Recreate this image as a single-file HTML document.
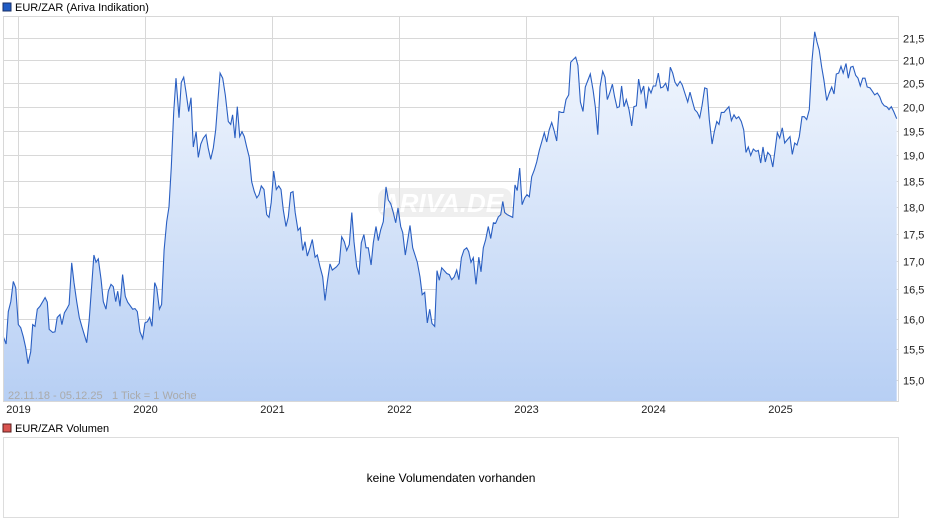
<!DOCTYPE html>
<html><head><meta charset="utf-8"><style>
html,body{margin:0;padding:0;background:#fff;}
svg{display:block;font-family:"Liberation Sans",sans-serif;}
</style></head><body>
<svg id="chart" width="940" height="526" viewBox="0 0 940 526">
<defs><linearGradient id="fillg" x1="0" y1="0" x2="0" y2="1">
<stop offset="0" stop-color="#f4f8fe"/><stop offset="1" stop-color="#b7cff4"/></linearGradient></defs>
<rect x="3" y="3" width="8" height="8" fill="#1f5bc4" stroke="#1a2f66" stroke-width="1"/>
<text x="15" y="11" font-size="11" fill="#000">EUR/ZAR (Ariva Indikation)</text>
<g id="grid"></g>
<path id="area" fill="url(#fillg)"/>
<g opacity="0.55">
<rect x="378" y="188" width="134" height="29" rx="10" fill="#e2e2e2"/>
<text x="442" y="212" font-size="26" font-style="italic" font-weight="bold" fill="#ffffff" text-anchor="middle">ARIVA.DE</text>
</g>
<path id="line" fill="none" stroke="#2a5fc2" stroke-width="1.1"/>
<rect x="3.5" y="16.5" width="895" height="385" fill="none" stroke="#d8d8d8"/>
<text x="8" y="399" font-size="11" fill="#aaaaaa">22.11.18 - 05.12.25</text>
<text x="112" y="399" font-size="11" fill="#aaaaaa">1 Tick = 1 Woche</text>
<g id="labels"></g>
<rect x="3" y="424" width="8" height="8" fill="#d9534f" stroke="#5a1f1f" stroke-width="1"/>
<text x="15" y="432" font-size="11" fill="#000">EUR/ZAR Volumen</text>
<rect x="3.5" y="437.5" width="895" height="80" fill="#fff" stroke="#dddddd"/>
<text x="451" y="482" font-size="12" fill="#000" text-anchor="middle">keine Volumendaten vorhanden</text>
</svg>
<script>
const yTicks=[15.0,15.5,16.0,16.5,17.0,17.5,18.0,18.5,19.0,19.5,20.0,20.5,21.0,21.5];
const yTickLabels=["15,0","15,5","16,0","16,5","17,0","17,5","18,0","18,5","19,0","19,5","20,0","20,5","21,0","21,5"];
const years=[2019,2020,2021,2022,2023,2024,2025];
const dates=[2018.884,2018.906,2018.924,2018.943,2018.963,2018.982,2019.002,2019.021,2019.042,2019.061,2019.079,2019.100,2019.116,2019.134,2019.152,2019.173,2019.213,2019.231,2019.246,2019.273,2019.291,2019.309,2019.331,2019.346,2019.365,2019.383,2019.402,2019.423,2019.441,2019.462,2019.483,2019.502,2019.541,2019.561,2019.598,2019.614,2019.632,2019.654,2019.672,2019.693,2019.711,2019.732,2019.750,2019.769,2019.785,2019.803,2019.824,2019.845,2019.864,2019.903,2019.921,2019.939,2019.961,2019.982,2020.000,2020.018,2020.037,2020.055,2020.076,2020.092,2020.113,2020.131,2020.150,2020.171,2020.189,2020.207,2020.226,2020.244,2020.268,2020.286,2020.305,2020.323,2020.344,2020.362,2020.380,2020.402,2020.420,2020.439,2020.459,2020.480,2020.498,2020.517,2020.538,2020.557,2020.575,2020.591,2020.612,2020.632,2020.656,2020.675,2020.690,2020.709,2020.727,2020.746,2020.764,2020.782,2020.801,2020.821,2020.840,2020.861,2020.880,2020.898,2020.916,2020.937,2020.958,2020.976,2020.994,2021.013,2021.034,2021.053,2021.071,2021.089,2021.110,2021.128,2021.147,2021.165,2021.183,2021.205,2021.223,2021.242,2021.260,2021.278,2021.299,2021.317,2021.339,2021.357,2021.378,2021.399,2021.417,2021.436,2021.457,2021.475,2021.509,2021.530,2021.549,2021.569,2021.588,2021.609,2021.628,2021.646,2021.667,2021.685,2021.703,2021.724,2021.740,2021.758,2021.780,2021.798,2021.819,2021.837,2021.856,2021.876,2021.898,2021.916,2021.935,2021.955,2021.974,2021.992,2022.013,2022.029,2022.050,2022.069,2022.087,2022.108,2022.126,2022.144,2022.165,2022.183,2022.202,2022.223,2022.242,2022.260,2022.281,2022.299,2022.317,2022.336,2022.376,2022.396,2022.415,2022.435,2022.454,2022.472,2022.491,2022.512,2022.533,2022.549,2022.567,2022.585,2022.606,2022.628,2022.646,2022.664,2022.683,2022.703,2022.722,2022.743,2022.761,2022.782,2022.801,2022.817,2022.832,2022.853,2022.895,2022.913,2022.931,2022.950,2022.969,2022.990,2023.008,2023.026,2023.045,2023.065,2023.084,2023.105,2023.124,2023.144,2023.163,2023.183,2023.202,2023.220,2023.242,2023.260,2023.278,2023.297,2023.315,2023.336,2023.352,2023.373,2023.391,2023.409,2023.428,2023.449,2023.467,2023.488,2023.506,2023.528,2023.546,2023.565,2023.583,2023.604,2023.622,2023.640,2023.659,2023.680,2023.698,2023.717,2023.735,2023.753,2023.772,2023.790,2023.811,2023.832,2023.850,2023.869,2023.887,2023.906,2023.927,2023.945,2023.966,2023.984,2024.002,2024.021,2024.042,2024.061,2024.079,2024.100,2024.118,2024.136,2024.155,2024.173,2024.191,2024.213,2024.231,2024.250,2024.273,2024.291,2024.309,2024.328,2024.349,2024.368,2024.386,2024.407,2024.425,2024.443,2024.465,2024.483,2024.502,2024.520,2024.538,2024.559,2024.577,2024.598,2024.617,2024.638,2024.656,2024.675,2024.695,2024.714,2024.732,2024.750,2024.769,2024.790,2024.811,2024.829,2024.848,2024.866,2024.884,2024.903,2024.924,2024.943,2024.961,2024.979,2024.998,2025.018,2025.037,2025.055,2025.079,2025.097,2025.116,2025.134,2025.152,2025.173,2025.191,2025.210,2025.231,2025.252,2025.273,2025.291,2025.309,2025.328,2025.346,2025.368,2025.388,2025.407,2025.425,2025.443,2025.462,2025.480,2025.498,2025.520,2025.538,2025.557,2025.575,2025.596,2025.614,2025.632,2025.651,2025.669,2025.687,2025.709,2025.727,2025.746,2025.766,2025.785,2025.803,2025.821,2025.840,2025.858,2025.876,2025.895,2025.919];
const prices=[15.70,15.58,16.12,16.29,16.64,16.53,15.90,15.85,15.70,15.52,15.26,15.45,15.90,15.87,16.16,16.21,16.36,16.28,15.82,15.77,15.78,16.02,16.07,15.90,16.10,16.16,16.24,16.97,16.62,16.29,16.02,15.87,15.60,15.98,17.11,16.98,17.04,16.67,16.29,16.16,16.47,16.59,16.55,16.29,16.47,16.21,16.76,16.38,16.28,16.16,16.17,16.12,15.78,15.67,15.93,15.95,16.02,15.87,16.62,16.53,16.16,16.24,17.20,17.72,18.00,18.77,19.88,20.61,19.77,20.52,20.63,20.31,19.90,20.19,19.17,19.48,18.96,19.23,19.35,19.42,19.15,18.92,19.15,19.52,20.15,20.72,20.61,20.25,19.69,19.63,19.83,19.35,20.00,19.38,19.48,19.38,19.17,18.96,18.48,18.29,18.17,18.23,18.40,18.33,17.85,17.80,18.08,18.69,18.33,18.40,18.33,17.94,17.63,17.81,18.27,18.29,17.89,17.56,17.61,17.19,17.35,17.09,17.24,17.39,17.07,17.11,16.90,16.72,16.31,16.64,16.95,16.84,16.90,16.96,17.44,17.35,17.19,17.30,17.89,17.35,16.90,16.76,17.33,17.48,17.24,17.24,16.93,17.33,17.63,17.37,17.57,17.72,18.38,18.13,18.06,17.89,17.70,17.98,17.63,17.52,17.11,17.39,17.65,17.24,17.11,16.98,16.72,16.41,16.45,15.93,16.16,15.92,15.87,16.83,16.66,16.88,16.78,16.76,16.67,16.72,16.84,16.67,17.06,17.20,17.24,17.17,16.98,17.06,16.59,17.07,16.81,17.24,17.39,17.63,17.41,17.70,17.69,17.81,17.85,18.10,17.89,17.85,17.80,18.42,18.31,18.75,18.04,18.17,18.23,18.19,18.58,18.71,18.87,19.10,19.27,19.46,19.27,19.52,19.67,19.52,19.29,19.90,19.88,19.88,20.15,20.25,20.96,21.02,21.07,20.89,20.10,19.90,20.42,20.57,20.70,20.35,20.00,19.42,20.42,20.76,20.63,20.15,20.29,20.48,20.21,19.98,20.00,20.44,20.00,20.15,19.94,19.60,20.00,20.02,20.59,20.29,20.44,19.96,20.40,20.29,20.44,20.44,20.72,20.40,20.42,20.50,20.33,20.85,20.72,20.52,20.44,20.54,20.46,20.29,20.10,20.31,20.13,19.94,19.88,19.77,20.02,20.40,20.38,19.73,19.23,19.48,19.69,19.63,19.88,19.88,19.94,20.00,19.71,19.83,19.75,19.79,19.69,19.52,19.06,19.17,19.00,19.13,19.08,19.10,18.85,19.17,18.87,19.06,19.00,18.77,19.10,19.46,19.35,19.56,19.25,19.31,19.38,19.02,19.25,19.21,19.38,19.79,19.79,19.73,19.94,21.00,21.64,21.41,21.23,20.85,20.57,20.13,20.29,20.42,20.27,20.70,20.72,20.87,20.72,20.93,20.61,20.85,20.87,20.67,20.61,20.44,20.61,20.61,20.42,20.40,20.33,20.25,20.29,20.21,20.08,20.02,20.00,19.94,20.00,19.90,19.75];

const NS="http://www.w3.org/2000/svg";
const PT=16,PB=401,PL=3,PR=898;
function xScale(t){return 18+(t-2019)*127;}
function yScale(v){return 380-950*Math.log(v/15);}
const grid=document.getElementById('grid');
const labels=document.getElementById('labels');
yTicks.forEach((v,i)=>{
  const y=Math.round(yScale(v))+0.5;
  const l=document.createElementNS(NS,'line');
  l.setAttribute('x1',PL);l.setAttribute('x2',PR);l.setAttribute('y1',y);l.setAttribute('y2',y);
  l.setAttribute('stroke','#d8d8d8');
  
  
  grid.appendChild(l);
  const tx=document.createElementNS(NS,'text');
  tx.setAttribute('x',903);tx.setAttribute('y',y+4);tx.setAttribute('font-size','11');tx.setAttribute('fill','#222');
  tx.textContent=yTickLabels[i];
  
  
  labels.appendChild(tx);
});
years.forEach(yr=>{
  const x=Math.round(xScale(yr))+0.5;
  const l=document.createElementNS(NS,'line');
  l.setAttribute('x1',x);l.setAttribute('x2',x);l.setAttribute('y1',PT);l.setAttribute('y2',PB);
  l.setAttribute('stroke','#d8d8d8');
  
  
  grid.appendChild(l);
  const tx=document.createElementNS(NS,'text');
  tx.setAttribute('x',x);tx.setAttribute('y',413);tx.setAttribute('font-size','11');tx.setAttribute('fill','#222');tx.setAttribute('text-anchor','middle');
  tx.textContent=String(yr);
  
  
  labels.appendChild(tx);
});
let d='';
dates.forEach((t,i)=>{d+=(i?'L':'M')+xScale(t).toFixed(1)+','+yScale(prices[i]).toFixed(1);});
document.getElementById('line').setAttribute('d',d);
const x0=xScale(dates[0]).toFixed(1),x1=xScale(dates[dates.length-1]).toFixed(1);
document.getElementById('area').setAttribute('d',d+'L'+x1+','+PB+'L'+x0+','+PB+'Z');
</script>
</body></html>
